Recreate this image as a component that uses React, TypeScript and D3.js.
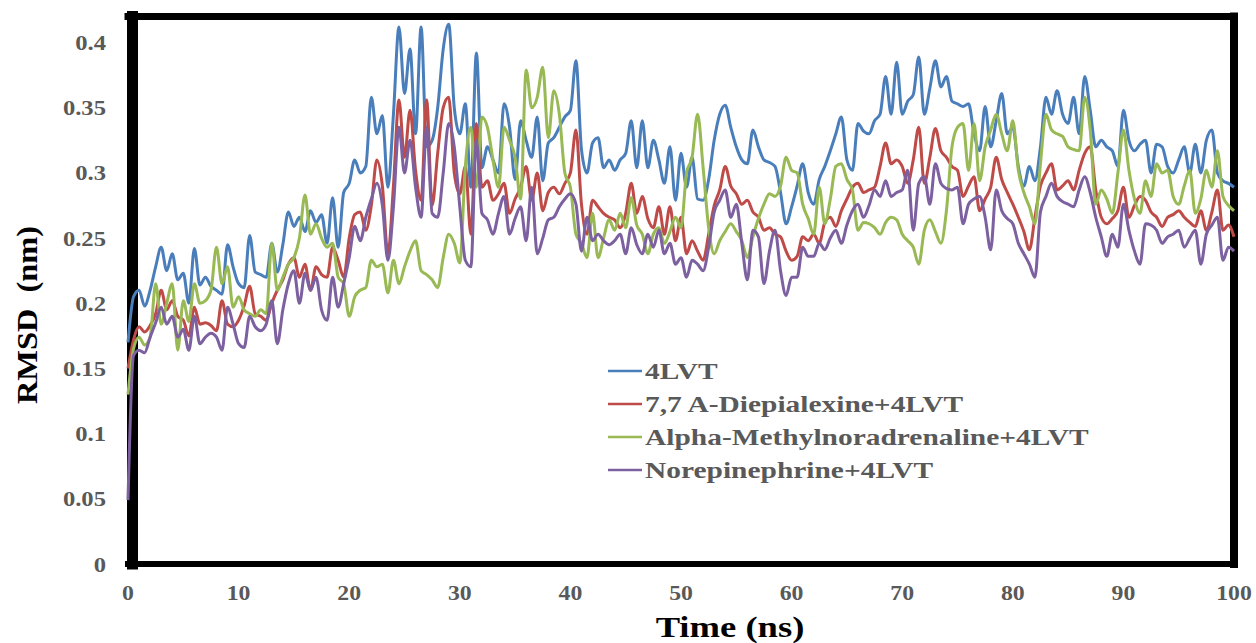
import React from "react";
import * as d3 from "d3";

// time grid in ns (every 0.5 ns)
const time = d3.range(0, 100.25, 0.5);

const blue4LVT = [
  0.17, 0.205, 0.21, 0.198, 0.21, 0.228, 0.243, 0.225, 0.238, 0.218,
  0.223, 0.2, 0.242, 0.214, 0.22, 0.213, 0.21, 0.207, 0.245, 0.228,
  0.215, 0.212, 0.252, 0.224, 0.222, 0.22, 0.246, 0.224, 0.245, 0.27,
  0.259, 0.266, 0.255, 0.271, 0.262, 0.268, 0.246, 0.281, 0.243, 0.285,
  0.292, 0.31, 0.3, 0.305, 0.358, 0.33, 0.344, 0.289, 0.345, 0.412,
  0.361, 0.395, 0.33, 0.412, 0.32, 0.325, 0.35, 0.395, 0.414, 0.35,
  0.33, 0.353, 0.289, 0.392, 0.304, 0.32, 0.31, 0.3, 0.353, 0.335,
  0.295, 0.34, 0.325, 0.312, 0.343, 0.294, 0.323, 0.327, 0.335, 0.343,
  0.348, 0.386, 0.318, 0.3, 0.323, 0.327, 0.304, 0.31, 0.302, 0.31,
  0.315, 0.34, 0.304, 0.34, 0.304, 0.325, 0.31, 0.292, 0.32, 0.279,
  0.315, 0.289, 0.312, 0.28, 0.279, 0.295, 0.325, 0.345, 0.352, 0.335,
  0.32, 0.31, 0.307, 0.333, 0.32, 0.31, 0.308, 0.305, 0.285, 0.261,
  0.274, 0.29, 0.307, 0.285, 0.276, 0.295, 0.305, 0.317, 0.33, 0.343,
  0.31, 0.302, 0.338, 0.332, 0.33, 0.34, 0.345, 0.374, 0.345, 0.385,
  0.345, 0.355, 0.36, 0.389, 0.345, 0.365, 0.386, 0.366, 0.374, 0.355,
  0.353, 0.351, 0.353, 0.33, 0.317, 0.351, 0.32, 0.34, 0.361, 0.33,
  0.335, 0.305, 0.29, 0.305, 0.294, 0.32, 0.358, 0.345, 0.363, 0.345,
  0.338, 0.358, 0.33, 0.374, 0.348, 0.32, 0.325, 0.32, 0.317, 0.305,
  0.348, 0.325, 0.317, 0.322, 0.325, 0.3, 0.322, 0.32, 0.305, 0.3,
  0.31, 0.32, 0.3, 0.322, 0.3, 0.325, 0.333, 0.3, 0.294, 0.292,
  0.289,
];

const redDiepialexine = [
  0.15, 0.172, 0.182, 0.178, 0.183, 0.192, 0.21, 0.195, 0.202, 0.19,
  0.187, 0.175, 0.197, 0.184, 0.185, 0.183, 0.179, 0.202, 0.184, 0.182,
  0.187, 0.198, 0.213, 0.192, 0.19, 0.187, 0.2, 0.21, 0.218, 0.23,
  0.235, 0.22, 0.23, 0.21, 0.228, 0.222, 0.22, 0.243, 0.233, 0.22,
  0.25, 0.268, 0.27, 0.256, 0.275, 0.31, 0.29, 0.238, 0.29, 0.356,
  0.312, 0.348, 0.302, 0.279, 0.356, 0.275, 0.315, 0.35, 0.358, 0.3,
  0.284, 0.305, 0.253, 0.338, 0.289, 0.294, 0.279, 0.284, 0.292, 0.269,
  0.28, 0.289, 0.305, 0.279, 0.3, 0.271, 0.285, 0.289, 0.284, 0.292,
  0.3, 0.333, 0.276, 0.253, 0.279, 0.274, 0.269, 0.266, 0.264, 0.258,
  0.269, 0.292, 0.269, 0.282, 0.265, 0.258, 0.274, 0.253, 0.274, 0.248,
  0.266, 0.238, 0.248, 0.24, 0.233, 0.253, 0.275, 0.287, 0.305, 0.29,
  0.284, 0.276, 0.279, 0.27, 0.266, 0.256, 0.258, 0.253, 0.251, 0.24,
  0.233, 0.236, 0.251, 0.248, 0.253, 0.246, 0.262, 0.266, 0.259, 0.271,
  0.28, 0.289, 0.292, 0.285, 0.287, 0.289, 0.305, 0.323, 0.307, 0.31,
  0.305, 0.292, 0.31, 0.335, 0.292, 0.312, 0.334, 0.317, 0.312, 0.305,
  0.302, 0.282, 0.29, 0.297, 0.271, 0.28, 0.289, 0.312, 0.295, 0.285,
  0.276, 0.266, 0.255, 0.241, 0.266, 0.29, 0.3, 0.307, 0.287, 0.29,
  0.294, 0.287, 0.302, 0.315, 0.32, 0.287, 0.266, 0.261, 0.265, 0.271,
  0.289, 0.266, 0.275, 0.282, 0.279, 0.27, 0.266, 0.259, 0.266, 0.268,
  0.271, 0.266, 0.262, 0.259, 0.271, 0.256, 0.27, 0.287, 0.256, 0.26,
  0.251,
];

const greenAlpha = [
  0.13, 0.165, 0.174, 0.168, 0.174, 0.215, 0.184, 0.2, 0.215, 0.164,
  0.202, 0.186, 0.215, 0.2, 0.202, 0.21, 0.243, 0.215, 0.228, 0.197,
  0.205, 0.195, 0.192, 0.19, 0.195, 0.192, 0.246, 0.21, 0.22, 0.23,
  0.235, 0.25, 0.283, 0.253, 0.261, 0.25, 0.243, 0.246, 0.22, 0.215,
  0.19, 0.205, 0.21, 0.212, 0.233, 0.228, 0.23, 0.208, 0.233, 0.215,
  0.228, 0.24, 0.248, 0.225, 0.222, 0.218, 0.212, 0.235, 0.253, 0.246,
  0.231, 0.305, 0.335, 0.289, 0.343, 0.335, 0.31, 0.289, 0.335, 0.325,
  0.312, 0.28, 0.379, 0.35, 0.358, 0.381, 0.327, 0.363, 0.345, 0.3,
  0.289, 0.253, 0.246, 0.235, 0.269, 0.235, 0.25, 0.264, 0.256, 0.269,
  0.258, 0.281, 0.26, 0.253, 0.238, 0.253, 0.258, 0.246, 0.255, 0.266,
  0.258, 0.3, 0.312, 0.345, 0.304, 0.258, 0.238, 0.248, 0.255, 0.261,
  0.255, 0.248, 0.235, 0.251, 0.265, 0.276, 0.284, 0.282, 0.29, 0.312,
  0.302, 0.3, 0.276, 0.265, 0.253, 0.289, 0.261, 0.28, 0.305, 0.307,
  0.295, 0.287, 0.256, 0.262, 0.261, 0.258, 0.253, 0.262, 0.266, 0.264,
  0.253, 0.248, 0.243, 0.23, 0.256, 0.264, 0.255, 0.246, 0.271, 0.32,
  0.335, 0.338, 0.302, 0.338, 0.294, 0.32, 0.333, 0.345, 0.33, 0.317,
  0.34, 0.302, 0.285, 0.274, 0.261, 0.307, 0.345, 0.333, 0.33, 0.328,
  0.32, 0.318, 0.317, 0.358, 0.333, 0.276, 0.287, 0.28, 0.269, 0.3,
  0.333, 0.302, 0.28, 0.269, 0.294, 0.282, 0.307, 0.3, 0.302, 0.282,
  0.276, 0.29, 0.302, 0.269, 0.28, 0.302, 0.289, 0.317, 0.282, 0.275,
  0.271,
];

const purpleNorepinephrine = [
  0.049, 0.16, 0.164, 0.162, 0.174, 0.185, 0.197, 0.184, 0.19, 0.174,
  0.18, 0.164, 0.19, 0.169, 0.174, 0.177, 0.174, 0.164, 0.197, 0.184,
  0.169, 0.166, 0.19, 0.182, 0.179, 0.184, 0.202, 0.169, 0.195, 0.215,
  0.225, 0.2, 0.223, 0.21, 0.22, 0.195, 0.187, 0.22, 0.197, 0.215,
  0.235, 0.259, 0.248, 0.266, 0.28, 0.292, 0.275, 0.233, 0.274, 0.335,
  0.3, 0.325, 0.289, 0.266, 0.335, 0.269, 0.266, 0.3, 0.338, 0.32,
  0.274, 0.233, 0.228, 0.325, 0.269, 0.264, 0.253, 0.269, 0.282, 0.253,
  0.265, 0.274, 0.248, 0.289, 0.238, 0.25, 0.264, 0.266, 0.274, 0.28,
  0.284, 0.276, 0.24, 0.266, 0.248, 0.253, 0.248, 0.245, 0.248, 0.253,
  0.238, 0.258, 0.245, 0.238, 0.253, 0.243, 0.256, 0.238, 0.246, 0.23,
  0.235, 0.22, 0.233, 0.23, 0.225, 0.243, 0.27, 0.279, 0.287, 0.266,
  0.276, 0.246, 0.218, 0.256, 0.251, 0.215, 0.24, 0.256, 0.225, 0.206,
  0.22, 0.22, 0.243, 0.236, 0.236, 0.246, 0.241, 0.25, 0.256, 0.246,
  0.26, 0.271, 0.276, 0.266, 0.275, 0.287, 0.282, 0.294, 0.282, 0.285,
  0.287, 0.302, 0.256, 0.292, 0.297, 0.276, 0.307, 0.292, 0.288, 0.287,
  0.289, 0.261, 0.276, 0.28, 0.282, 0.266, 0.241, 0.287, 0.271, 0.265,
  0.261, 0.246, 0.238, 0.23, 0.22, 0.27, 0.282, 0.292, 0.282, 0.278,
  0.276, 0.274, 0.287, 0.297, 0.285, 0.266, 0.251, 0.236, 0.253, 0.243,
  0.276, 0.256, 0.24, 0.23, 0.261, 0.26, 0.256, 0.246, 0.251, 0.253,
  0.256, 0.243, 0.25, 0.256, 0.23, 0.253, 0.26, 0.266, 0.233, 0.243,
  0.24,
];

const seriesNames = [
  "4LVT",
  "7,7 A-Diepialexine+4LVT",
  "Alpha-Methylnoradrenaline+4LVT",
  "Norepinephrine+4LVT",
];
const seriesColors = ["#4a7ebb", "#be4b48", "#98b954", "#7d60a0"];
const seriesValues = [blue4LVT, redDiepialexine, greenAlpha, purpleNorepinephrine];

const xTicks = [0, 10, 20, 30, 40, 50, 60, 70, 80, 90, 100];
const yTicks = [0, 0.05, 0.1, 0.15, 0.2, 0.25, 0.3, 0.35, 0.4];

const W = 1256;
const H = 643;
const left = 128;
const right = 1234;
const top = 16.5;
const bottom = 564;

const FONT = "'Liberation Serif', 'Times New Roman', serif";

export default function App() {
  const x = d3.scaleLinear().domain([0, 100]).range([left, right]);
  const y = d3.scaleLinear().domain([0, 0.42]).range([bottom, top]);

  const line = d3
    .line<number>()
    .x((d, i) => x(time[i]))
    .y((d) => y(d))
    .curve(d3.curveMonotoneX);

  return (
    <svg
      width={W}
      height={H}
      style={{ position: "absolute", left: 0, top: 0, background: "#fff" }}
      fontFamily={FONT}
    >
      <rect x={0} y={0} width={W} height={H} fill="#fff" />

      {/* plot frame, left side heavier like the source */}
      <g stroke="#000" strokeLinecap="square">
        <line x1={left} x2={right} y1={top} y2={top} strokeWidth={7} />
        <line x1={right} x2={right} y1={top} y2={bottom} strokeWidth={8} />
        <line x1={left} x2={right} y1={bottom} y2={bottom} strokeWidth={6} />
        <line x1={left + 4.5} x2={left + 4.5} y1={top} y2={bottom} strokeWidth={11} />
      </g>

      {seriesValues.map((vals, i) => (
        <path
          key={seriesNames[i]}
          d={line(vals) || ""}
          fill="none"
          stroke={seriesColors[i]}
          strokeWidth={3}
          strokeLinejoin="round"
        />
      ))}

      <g fontWeight="bold" fontSize={22} fill="#595959">
        {yTicks.map((t) => (
          <text
            key={t}
            transform={`translate(106,${y(t) + 7.5}) scale(1.12,1)`}
            textAnchor="end"
          >
            {d3.format("")(t)}
          </text>
        ))}
        {xTicks.map((t) => (
          <text
            key={t}
            transform={`translate(${x(t)},600) scale(1.08,1)`}
            textAnchor="middle"
          >
            {t}
          </text>
        ))}
      </g>

      <text
        transform="translate(730,637) scale(1.22,1)"
        textAnchor="middle"
        fontWeight="bold"
        fontSize={30}
        fill="#000"
      >
        Time (ns)
      </text>
      <text
        transform="translate(37,315) rotate(-90) scale(1.08,1)"
        textAnchor="middle"
        fontWeight="bold"
        fontSize={30}
        fill="#000"
        xmlSpace="preserve"
      >
        RMSD  (nm)
      </text>

      <g>
        {seriesNames.map((name, i) => (
          <g key={name} transform={`translate(608,${371 + i * 33})`}>
            <line x1={0} x2={34} y1={0} y2={0} stroke={seriesColors[i]} strokeWidth={2.5} />
            <text
              transform="translate(37,7.5) scale(1.28,1)"
              fontWeight="bold"
              fontSize={23}
              fill="#595959"
            >
              {name}
            </text>
          </g>
        ))}
      </g>
    </svg>
  );
}
